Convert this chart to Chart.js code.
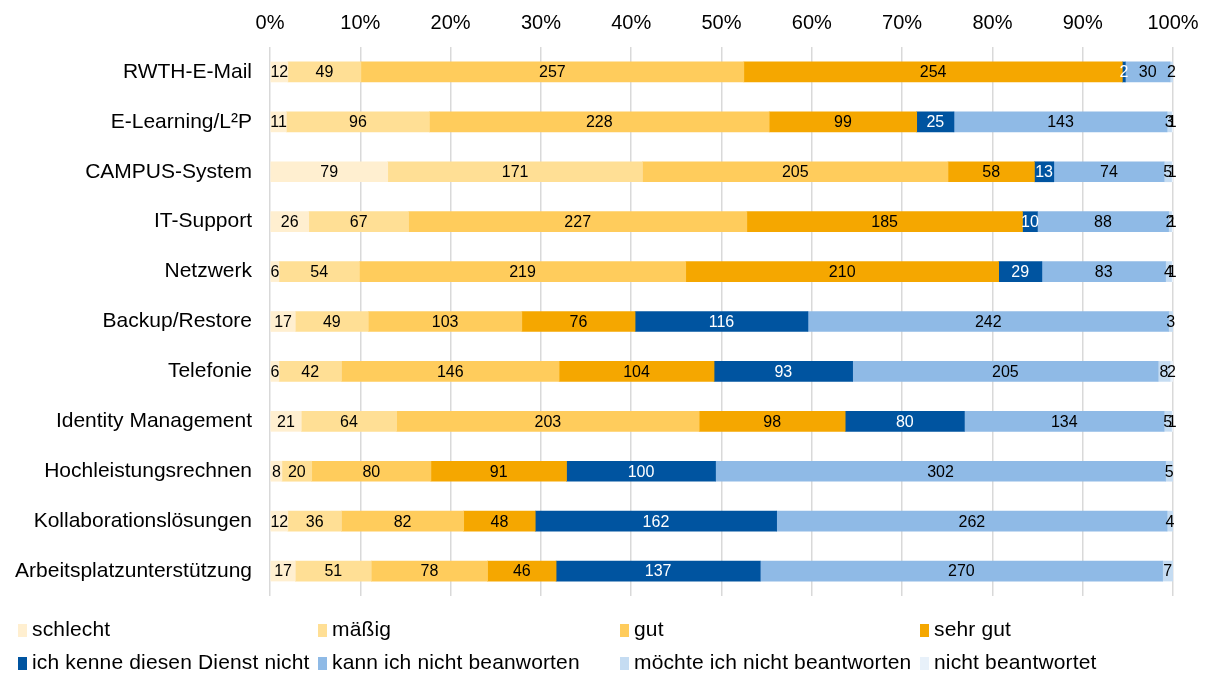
<!DOCTYPE html>
<html>
<head>
<meta charset="utf-8">
<script src="https://cdn.jsdelivr.net/npm/chart.js@4"></script>
<style>
html,body{margin:0;padding:0;background:#fff;}
#wrap{position:relative;width:1206px;height:673px;font-family:"Liberation Sans",Arial,sans-serif;}
canvas{position:absolute;left:0;top:0;}
.lg{position:absolute;font-size:21px;color:#000;line-height:24px;white-space:nowrap;letter-spacing:0.15px;}
.lg i{display:inline-block;width:9px;height:13px;margin-right:5px;vertical-align:-1px;}
</style>
</head>
<body>
<div id="wrap"><canvas id="c" width="1206" height="673"></canvas></div>
<script>
const categories = ["RWTH-E-Mail","E-Learning/L²P","CAMPUS-System","IT-Support","Netzwerk","Backup/Restore","Telefonie","Identity Management","Hochleistungsrechnen","Kollaborationslösungen","Arbeitsplatzunterstützung"];
const seriesNames = ["schlecht","mäßig","gut","sehr gut","ich kenne diesen Dienst nicht","kann ich nicht beanworten","möchte ich nicht beantworten","nicht beantwortet"];
const schlecht   = [12, 11, 79, 26, 6, 17, 6, 21, 8, 12, 17];
const maessig    = [49, 96, 171, 67, 54, 49, 42, 64, 20, 36, 51];
const gut        = [257, 228, 205, 227, 219, 103, 146, 203, 80, 82, 78];
const sehrGut    = [254, 99, 58, 185, 210, 76, 104, 98, 91, 48, 46];
const kenneNicht = [2, 25, 13, 10, 29, 116, 93, 80, 100, 162, 137];
const kannNicht  = [30, 143, 74, 88, 83, 242, 205, 134, 302, 262, 270];
const moechteNicht = [2, 3, 5, 2, 4, 3, 8, 5, 5, 4, 7];
const nichtBeantw  = [0, 1, 1, 1, 1, 0, 2, 1, 0, 0, 0];
const tickLabels = ["0%","10%","20%","30%","40%","50%","60%","70%","80%","90%","100%"];

const seriesValues = [schlecht, maessig, gut, sehrGut, kenneNicht, kannNicht, moechteNicht, nichtBeantw];
const colors = ["#FFEFD0","#FFDF95","#FFCC5C","#F5A700","#0054A0","#8FBAE6","#C5DCF2","#E8F1FA"];
const labelColors = ["#000","#000","#000","#000","#fff","#000","#000","#000"];

const totals = categories.map((_, i) => seriesValues.reduce((s, arr) => s + arr[i], 0));

const datasets = seriesValues.map((arr, k) => ({
  label: seriesNames[k],
  data: arr.map((v, i) => v / totals[i] * 100),
  raw: arr,
  backgroundColor: colors[k],
  borderWidth: 0,
  barThickness: 20
}));

const labelPlugin = {
  id: 'segLabels',
  afterDatasetsDraw(chart) {
    const ctx = chart.ctx;
    ctx.save();
    ctx.font = '16px "Liberation Sans", Arial, sans-serif';
    ctx.textAlign = 'center';
    ctx.textBaseline = 'middle';
    chart.data.datasets.forEach((ds, k) => {
      const meta = chart.getDatasetMeta(k);
      meta.data.forEach((el, i) => {
        const v = ds.raw[i];
        if (!v) return;
        const p = el.getProps(['x','y','base'], true);
        const cx = (p.x + p.base) / 2;
        ctx.fillStyle = labelColors[k];
        ctx.fillText(String(v), cx, p.y + 1);
      });
    });
    ctx.restore();
  }
};

new Chart(document.getElementById('c'), {
  type: 'bar',
  data: { labels: categories, datasets },
  plugins: [labelPlugin],
  options: {
    indexAxis: 'y',
    responsive: false,
    animation: false,
    devicePixelRatio: 1,
    layout: { padding: { left: 0, right: 33, top: 0, bottom: 77 } },
    plugins: { legend: { display: false }, tooltip: { enabled: false } },
    scales: {
      x: {
        position: 'top',
        stacked: true,
        min: 0, max: 100,
        afterFit(s) { s.height = 47; s.paddingLeft = 0; s.paddingRight = 0; },
        afterBuildTicks(s) { s.ticks = tickLabels.map((t, i) => ({ value: i * 10 })); },
        ticks: {
          stepSize: 10,
          padding: 12,
          color: '#000',
          font: { size: 20, family: '"Liberation Sans", Arial, sans-serif' },
          callback: (v) => tickLabels[Math.round(v / 10)]
        },
        grid: { color: '#D9D9D9', lineWidth: 1.5, drawTicks: false },
        border: { display: false }
      },
      y: {
        stacked: true,
        afterFit(s) { s.width = 270; },
        ticks: {
          padding: 18,
          color: '#000',
          font: { size: 21, family: '"Liberation Sans", Arial, sans-serif' }
        },
        grid: { display: false, drawTicks: false },
        border: { display: false }
      }
    }
  }
});

// legend
const wrap = document.getElementById('wrap');
const lgX = [18, 318, 620, 920];
const lgY = [617, 650];
seriesNames.forEach((n, k) => {
  const d = document.createElement('div');
  d.className = 'lg';
  d.style.left = lgX[k % 4] + 'px';
  d.style.top = lgY[Math.floor(k / 4)] + 'px';
  d.innerHTML = '<i style="background:' + colors[k] + '"></i>' + n;
  wrap.appendChild(d);
});
</script>
</body>
</html>
